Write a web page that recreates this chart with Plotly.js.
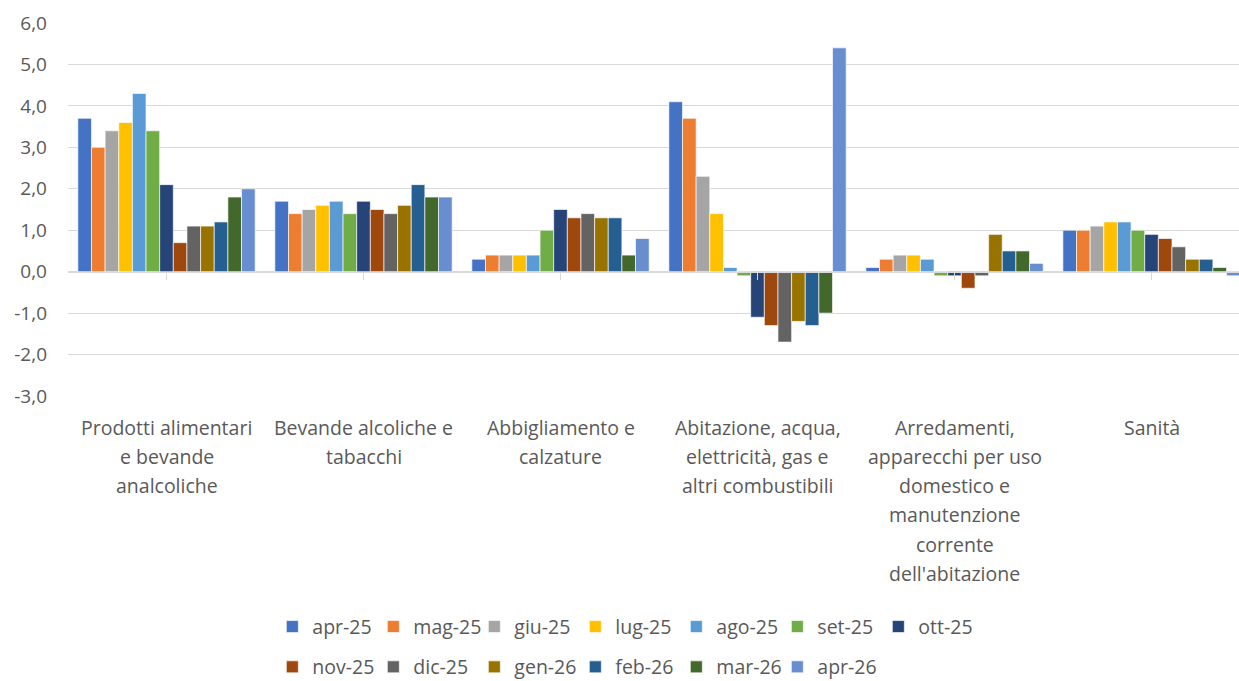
<!DOCTYPE html>
<html>
<head>
<meta charset="utf-8">
<script src="https://cdn.plot.ly/plotly-3.0.1.min.js"></script>
<style>html,body{margin:0;padding:0;overflow:hidden;background:#fff}</style>
</head>
<body>
<div id="chart" style="width:1239px;height:681px"></div>
<script>
const categories = [
  "Prodotti alimentari<br>e bevande<br>analcoliche",
  "Bevande alcoliche e<br>tabacchi",
  "Abbigliamento e<br>calzature",
  "Abitazione, acqua,<br>elettricità, gas e<br>altri combustibili",
  "Arredamenti,<br>apparecchi per uso<br>domestico e<br>manutenzione<br>corrente<br>dell'abitazione",
  "Sanità"
];
const seriesNames = ["apr-25","mag-25","giu-25","lug-25","ago-25","set-25","ott-25","nov-25","dic-25","gen-26","feb-26","mar-26","apr-26"];
const seriesColors = ["#4472C4","#ED7D31","#A5A5A5","#FFC000","#5B9BD5","#70AD47","#264478","#9E480E","#636363","#997300","#255E91","#43682B","#698ED0"];
// values per category, in series order
const alimentari   = [3.7, 3.0, 3.4, 3.6, 4.3, 3.4, 2.1, 0.7, 1.1, 1.1, 1.2, 1.8, 2.0];
const alcoliche    = [1.7, 1.4, 1.5, 1.6, 1.7, 1.4, 1.7, 1.5, 1.4, 1.6, 2.1, 1.8, 1.8];
const abbigliamento= [0.3, 0.4, 0.4, 0.4, 0.4, 1.0, 1.5, 1.3, 1.4, 1.3, 1.3, 0.4, 0.8];
const abitazione   = [4.1, 3.7, 2.3, 1.4, 0.1, -0.1, -1.1, -1.3, -1.7, -1.2, -1.3, -1.0, 5.4];
const arredamenti  = [0.1, 0.3, 0.4, 0.4, 0.3, -0.1, -0.1, -0.4, -0.1, 0.9, 0.5, 0.5, 0.2];
const sanita       = [1.0, 1.0, 1.1, 1.2, 1.2, 1.0, 0.9, 0.8, 0.6, 0.3, 0.3, 0.1, -0.1];
const yTickVals = [-3, -2, -1, 0, 1, 2, 3, 4, 5, 6];
const yTickText = ["-3,0", "-2,0", "-1,0", "0,0", "1,0", "2,0", "3,0", "4,0", "5,0", "6,0"];

const byCategory = [alimentari, alcoliche, abbigliamento, abitazione, arredamenti, sanita];
const xIdx = categories.map((c, i) => i);

const FONT = "Open Sans";
const TXT = "#595959";

const traces = seriesNames.map((name, s) => ({
  type: "bar",
  name: name,
  x: xIdx,
  y: byCategory.map(v => v[s]),
  marker: {color: seriesColors[s], line: {color: "rgba(255,255,255,0.8)", width: 0.8}},
  legend: s < 7 ? "legend" : "legend2",
  hoverinfo: "name+y"
}));

const annotations = [];
categories.forEach((c, i) => {
  c.split("<br>").forEach((line, j) => {
    annotations.push({
      x: i, xref: "x", y: 0, yref: "paper",
      text: line, showarrow: false,
      xanchor: "center", yanchor: "middle",
      yshift: -31 - 29.3 * j,
      font: {family: FONT, size: 19.5, color: TXT}
    });
  });
});

const legendCommon = {
  orientation: "h", xanchor: "left", yanchor: "middle",
  entrywidth: 56, entrywidthmode: "pixels",
  font: {family: FONT, size: 19.5, color: TXT},
  itemclick: false, itemdoubleclick: false, bgcolor: "rgba(0,0,0,0)"
};

const layout = {
  width: 1239, height: 681,
  margin: {l: 68, r: 0, t: 23, b: 285, autoexpand: false},
  paper_bgcolor: "#fff", plot_bgcolor: "#fff",
  barmode: "group", bargap: 0.1, bargroupgap: 0,
  showlegend: true,
  xaxis: {
    range: [-0.5, 5.444],
    anchor: "free", position: 1/3,
    showticklabels: false,
    tickmode: "array", tickvals: xIdx,
    tickson: "boundaries", ticks: "outside", ticklen: 7, tickcolor: "#d9d9d9", tickwidth: 1,
    showline: true, linecolor: "#d9d9d9", linewidth: 1,
    showgrid: false, zeroline: false, fixedrange: true
  },
  yaxis: {
    range: [-3, 6],
    tickmode: "array", tickvals: yTickVals, ticktext: yTickText,
    showgrid: true, gridcolor: "#d9d9d9", gridwidth: 1,
    zeroline: false, showline: false, ticks: "",
    ticklabelstandoff: 20,
    tickfont: {family: FONT, size: 19, color: TXT},
    fixedrange: true
  },
  legend: Object.assign({x: 0.1745, y: -0.619}, legendCommon),
  legend2: Object.assign({x: 0.1745, y: -0.727}, legendCommon),
  annotations: annotations
};

Plotly.newPlot("chart", traces, layout, {displayModeBar: false});
</script>
</body>
</html>
